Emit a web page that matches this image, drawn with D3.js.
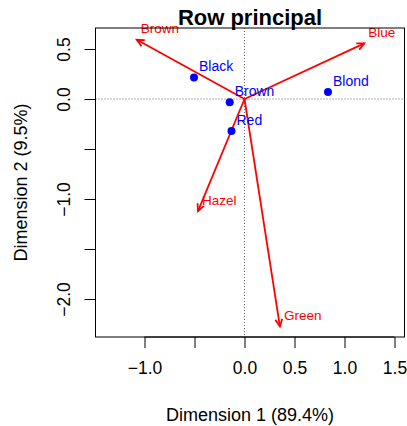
<!DOCTYPE html>
<html>
<head>
<meta charset="utf-8">
<script src="https://cdn.jsdelivr.net/npm/d3@7"></script>
<style>
  body { margin: 0; background: #fff; }
  text { font-family: "Liberation Sans", Arial, sans-serif; }
</style>
</head>
<body>
<div id="chart"></div>
<script>
// rows (hair colour), principal coordinates
var rowNames = ['Black', 'Brown', 'Red', 'Blond'];
var rowDim1 = [-0.505, -0.148, -0.130, 0.835];
var rowDim2 = [0.215, -0.033, -0.320, 0.070];

// columns (eye colour), standard coordinates
var colNames = ['Brown', 'Blue', 'Hazel', 'Green'];
var colDim1 = [-1.077, 1.198, -0.465, 0.354];
var colDim2 = [0.592, 0.556, -1.122, -2.274];

var xTicks = [-1.0, -0.5, 0.0, 0.5, 1.0, 1.5];
var xTickLabels = ['\u22121.0', '', '0.0', '0.5', '1.0', '1.5'];
var yTicks = [0.5, 0.0, -0.5, -1.0, -1.5, -2.0];
var yTickLabels = ['0.5', '0.0', '', '\u22121.0', '', '\u22122.0'];

var W = 407, H = 426;
var pLeft = 95.5, pRight = 404.5, pTop = 28, pBottom = 337;

var svg = d3.select('#chart').append('svg')
  .attr('width', W)
  .attr('height', H);

var x = d3.scaleLinear().domain([-1.49, 1.60]).range([pLeft, pRight]);
var y = d3.scaleLinear().domain([0.71, -2.38]).range([pTop, pBottom]);

// reference lines
svg.append('line')
  .attr('x1', pLeft).attr('x2', pRight)
  .attr('y1', y(0)).attr('y2', y(0))
  .style('stroke', '#666').style('stroke-dasharray', '1,2');
svg.append('line')
  .attr('x1', x(0)).attr('x2', x(0))
  .attr('y1', pTop).attr('y2', pBottom)
  .style('stroke', '#666').style('stroke-dasharray', '1,2');

// arrows
var red = '#ff0000';
colNames.forEach(function(n, i) {
  var x0 = x(0), y0 = y(0), x1 = x(colDim1[i]), y1 = y(colDim2[i]);
  var ang = Math.atan2(y1 - y0, x1 - x0);
  var len = 8, spread = Math.PI / 7;
  svg.append('line')
    .attr('x1', x0).attr('y1', y0)
    .attr('x2', x1).attr('y2', y1)
    .style('stroke', red).style('stroke-width', 1.8);
  svg.append('path')
    .attr('d', 'M' + (x1 - len * Math.cos(ang - spread)) + ',' + (y1 - len * Math.sin(ang - spread)) +
      'L' + x1 + ',' + y1 +
      'L' + (x1 - len * Math.cos(ang + spread)) + ',' + (y1 - len * Math.sin(ang + spread)))
    .style('fill', 'none').style('stroke', red).style('stroke-width', 1.8);
  svg.append('text')
    .attr('x', x1 + 4)
    .attr('y', y1 - 10)
    .attr('dominant-baseline', 'middle')
    .style('font-size', '13.5px')
    .style('fill', red)
    .text(n);
});

// points
rowNames.forEach(function(n, i) {
  svg.append('circle')
    .attr('cx', x(rowDim1[i]))
    .attr('cy', y(rowDim2[i]))
    .attr('r', 4)
    .style('fill', '#0000ff');
  svg.append('text')
    .attr('x', x(rowDim1[i]) + 5)
    .attr('y', y(rowDim2[i]) - 10)
    .attr('dominant-baseline', 'middle')
    .style('font-size', '14px')
    .style('fill', '#0000ff')
    .text(n);
});

// box
svg.append('rect')
  .attr('x', pLeft).attr('y', pTop)
  .attr('width', pRight - pLeft).attr('height', pBottom - pTop)
  .style('fill', 'none').style('stroke', '#000').style('stroke-width', 1);

// x axis
var xAxis = d3.axisBottom(x)
  .tickValues(xTicks)
  .tickSize(11)
  .tickPadding(14)
  .tickFormat(function(d, i) { return xTickLabels[i]; });
var gx = svg.append('g')
  .attr('transform', 'translate(0,' + pBottom + ')')
  .call(xAxis);
gx.select('.domain').attr('d', 'M' + x(-1.0) + ',0H' + x(1.5)).style('stroke', '#000');
gx.selectAll('text').style('font-size', '17.5px').style('fill', '#000')
  .style('font-family', '"Liberation Sans", Arial, sans-serif');

// y axis
var yAxis = d3.axisLeft(y)
  .tickValues(yTicks)
  .tickSize(11)
  .tickFormat(function(d, i) { return yTickLabels[i]; });
var gy = svg.append('g')
  .attr('transform', 'translate(' + pLeft + ',0)')
  .call(yAxis);
gy.select('.domain').attr('d', 'M0,' + y(0.5) + 'V' + y(-2.0)).style('stroke', '#000');
gy.selectAll('text')
  .attr('x', null).attr('dy', null)
  .attr('text-anchor', 'middle')
  .attr('transform', 'translate(-26,0) rotate(-90)')
  .style('font-size', '17.5px').style('fill', '#000')
  .style('font-family', '"Liberation Sans", Arial, sans-serif');

// titles
svg.append('text')
  .attr('x', (pLeft + pRight) / 2)
  .attr('y', 25)
  .attr('text-anchor', 'middle')
  .style('font-size', '22px')
  .style('font-weight', 'bold')
  .text('Row principal');

svg.append('text')
  .attr('x', (pLeft + pRight) / 2)
  .attr('y', 421)
  .attr('text-anchor', 'middle')
  .style('font-size', '18px')
  .text('Dimension 1 (89.4%)');

svg.append('text')
  .attr('transform', 'translate(27,' + (pTop + pBottom) / 2 + ') rotate(-90)')
  .attr('text-anchor', 'middle')
  .style('font-size', '18px')
  .text('Dimension 2 (9.5%)');
</script>
</body>
</html>
